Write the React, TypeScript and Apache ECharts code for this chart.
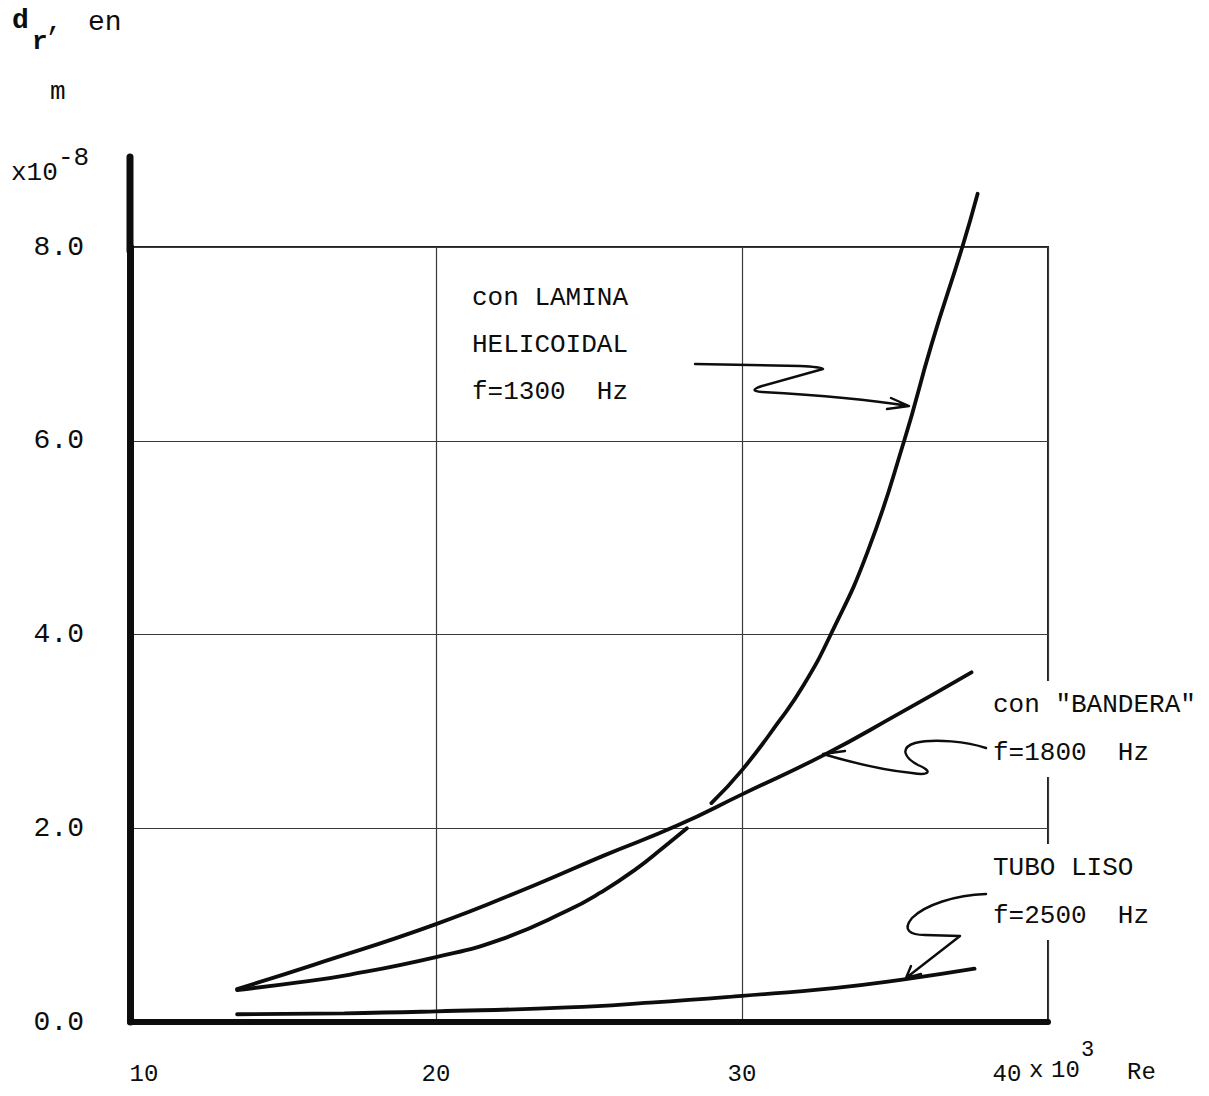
import React, { useEffect, useRef } from "react";
import * as echarts from "echarts";

// Axis ranges / ticks
const xMin = 10;
const xMax = 40;
const xStep = 10;
const yMin = 0;
const yMax = 8;
const yStep = 2;
const yAxisTop = 8.93; // y-axis line continues above the grid

// con LAMINA HELICOIDAL, f=1300 Hz (two drawn pieces)
const laminaLowRe = [13.5, 15.5, 17.2, 20, 22.1, 24.3, 25.4, 26.5, 27.5, 28.2];
const laminaLowDr = [0.33, 0.41, 0.49, 0.67, 0.85, 1.15, 1.34, 1.57, 1.82, 2.0];
const laminaUpRe = [29.0, 30.0, 31.2, 32.0, 32.9, 34.1, 35.3, 36.2, 37.2, 37.7];
const laminaUpDr = [2.26, 2.6, 3.1, 3.47, 4.0, 4.85, 6.0, 7.0, 8.0, 8.55];
// con "BANDERA", f=1800 Hz
const banderaRe = [13.5, 16, 20, 23.2, 25.5, 27.9, 30, 32.7, 35, 37.5];
const banderaDr = [0.34, 0.59, 1.01, 1.41, 1.72, 2.03, 2.35, 2.76, 3.16, 3.61];
// TUBO LISO, f=2500 Hz
const tuboRe = [13.5, 17, 20, 24.3, 27, 30, 33, 35.3, 37.6];
const tuboDr = [0.08, 0.09, 0.11, 0.15, 0.2, 0.27, 0.35, 0.44, 0.55];

const FONT = '"Liberation Mono", "DejaVu Sans Mono", monospace';
const INK = "#0d0d0d";

const pairs = (xs: number[], ys: number[]) => xs.map((x, i) => [x, ys[i]]);

echarts.graphic.registerShape(
  "arrowLamina",
  echarts.graphic.extendPath(
    "M695,364 L800,366 Q821,367 823,369 L762,386 Q747,391 762,392 C800,394 860,398 908,406 M891,398 L909,406 L887,409",
    {}
  )
);
echarts.graphic.registerShape(
  "arrowBandera",
  echarts.graphic.extendPath(
    "M986,748 C968,742 935,738 915,743 C899,748 905,758 918,765 C933,771 930,776 912,773 C880,770 850,762 823,754 M845,751 L823,754",
    {}
  )
);
echarts.graphic.registerShape(
  "arrowTubo",
  echarts.graphic.extendPath(
    "M986,894 C955,895 925,905 912,918 C902,930 910,935 925,935 L960,936 L906,978 M911,966 L906,978 L921,974",
    {}
  )
);

const lineSeries = (name: string, data: number[][]) => ({
  name,
  type: "line",
  data,
  smooth: 0.5,
  clip: false,
  showSymbol: false,
  symbol: "none",
  lineStyle: { color: INK, width: 3.8, cap: "round" },
  z: 5,
});

export default function App() {
  const ref = useRef<HTMLDivElement>(null);
  useEffect(() => {
    if (!ref.current) return;
    const chart = echarts.init(ref.current, undefined, { renderer: "svg" });
    const option: any = {
      animation: false,
      backgroundColor: "#ffffff",
      grid: {
        left: 130,
        top: 247,
        width: 918,
        height: 775,
        show: true,
        borderColor: "#222",
        borderWidth: 2,
        backgroundColor: "transparent",
      },
      xAxis: {
        type: "value",
        min: xMin,
        max: xMax,
        interval: xStep,
        axisLine: { show: true, onZero: false, lineStyle: { color: INK, width: 6 } },
        axisTick: { show: false },
        splitLine: { show: true, lineStyle: { color: "#3a3a3a", width: 1.2 } },
        axisLabel: {
          margin: 40,
          color: INK,
          fontFamily: FONT,
          fontSize: 24,
          formatter: (v: number) =>
            v === xMin ? `{a|${v}}` : v === xMax ? `{b|${v}}` : `{c|${v}}`,
          rich: {
            a: { fontFamily: FONT, fontSize: 24, color: INK, padding: [0, 0, 0, 28] },
            b: { fontFamily: FONT, fontSize: 24, color: INK, padding: [0, 82, 0, 0] },
            c: { fontFamily: FONT, fontSize: 24, color: INK },
          },
        },
      },
      yAxis: {
        type: "value",
        min: yMin,
        max: yMax,
        interval: yStep,
        axisLine: { show: true, onZero: false, lineStyle: { color: INK, width: 7 } },
        axisTick: { show: false },
        splitLine: { show: true, lineStyle: { color: "#3a3a3a", width: 1.2 } },
        axisLabel: {
          margin: 46,
          color: INK,
          fontFamily: FONT,
          fontSize: 28,
          formatter: (v: number) => v.toFixed(1),
        },
      },
      series: [
        lineSeries("con LAMINA HELICOIDAL f=1300 Hz", pairs(laminaLowRe, laminaLowDr)),
        lineSeries("con LAMINA HELICOIDAL f=1300 Hz (sup.)", pairs(laminaUpRe, laminaUpDr)),
        lineSeries('con "BANDERA" f=1800 Hz', pairs(banderaRe, banderaDr)),
        lineSeries("TUBO LISO f=2500 Hz", pairs(tuboRe, tuboDr)),
      ],
    };
    chart.setOption(option);

    const pBase = chart.convertToPixel({ xAxisIndex: 0, yAxisIndex: 0 }, [xMin, yMax]) as number[];
    const pTop = chart.convertToPixel({ xAxisIndex: 0, yAxisIndex: 0 }, [xMin, yAxisTop]) as number[];

    const txt = (text: string, x: number, y: number, size: number, extra: any = {}) => ({
      type: "text",
      x,
      y,
      z: 50,
      style: {
        text,
        fill: INK,
        font: `${extra.weight || "normal"} ${size}px ${FONT}`,
        textAlign: "left",
        textVerticalAlign: "middle",
        ...(extra.style || {}),
      },
    });
    const arrowStyle = { stroke: INK, fill: "none", lineWidth: 2.4, lineCap: "round", lineJoin: "round" };

    chart.setOption({
      graphic: [
        {
          type: "line",
          z: 40,
          shape: { x1: pBase[0], y1: pBase[1] + 4, x2: pTop[0], y2: pTop[1] },
          style: { stroke: INK, lineWidth: 7, lineCap: "round" },
        },
        // y-axis title
        txt("d", 12, 20, 28, { weight: "bold" }),
        txt("r", 32, 42, 26, { weight: "bold" }),
        txt(",", 46, 22, 28),
        txt("en", 88, 22, 28),
        txt("m", 50, 92, 26),
        txt("x10", 11, 173, 26),
        txt("-8", 58, 158, 26),
        // x-axis title
        txt("x", 1029, 1070, 24),
        txt("10", 1051, 1070, 24),
        txt("3", 1081, 1050, 22),
        txt("Re", 1127, 1072, 24),
        // annotations
        txt("con LAMINA\nHELICOIDAL\nf=1300  Hz", 472, 345, 26, {
          style: { lineHeight: 47 },
        }),
        txt('con "BANDERA"\nf=1800  Hz', 993, 729, 26, {
          style: { lineHeight: 48, backgroundColor: "#ffffff" },
        }),
        txt("TUBO LISO\nf=2500  Hz", 993, 892, 26, {
          style: { lineHeight: 48, backgroundColor: "#ffffff" },
        }),
        { type: "arrowLamina", x: 0, y: 0, z: 45, style: arrowStyle },
        { type: "arrowBandera", x: 0, y: 0, z: 45, style: arrowStyle },
        { type: "arrowTubo", x: 0, y: 0, z: 45, style: arrowStyle },
      ],
    });

    return () => chart.dispose();
  }, []);
  return (
    <div
      ref={ref}
      style={{ position: "absolute", left: 0, top: 0, width: 1209, height: 1096, background: "#fff" }}
    />
  );
}
